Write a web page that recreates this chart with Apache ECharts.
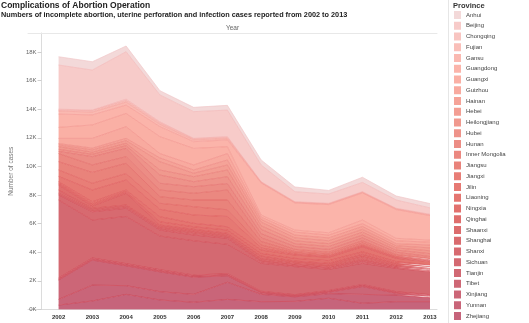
<!DOCTYPE html>
<html><head><meta charset="utf-8">
<script src="https://cdn.jsdelivr.net/npm/echarts@6/dist/echarts.min.js"></script>
<style>html,body{margin:0;padding:0;background:#fff}#c{width:529px;height:323px}</style>
</head><body><div id="c"></div>
<script>
// ---- data ----
const years = ['2002','2003','2004','2005','2006','2007','2008','2009','2010','2011','2012','2013'];
const yTicks = [0,2000,4000,6000,8000,10000,12000,14000,16000,18000];
// legend order (top of the stack first)
const provinces = ['Anhui','Beijing','Chongqing','Fujian','Gansu','Guangdong','Guangxi','Guizhou','Hainan','Hebei','Heilongjiang','Hubei','Hunan','Inner Mongolia','Jiangsu','Jiangxi','Jilin','Liaoning','Ningxia','Qinghai','Shaanxi','Shanghai','Shanxi','Sichuan','Tianjin','Tibet','Xinjiang','Yunnan','Zhejiang'];
const colors = ['#f3d9d9','#f7cbc9','#f8c5c1','#f9bfb9','#fab9b1','#fbb4aa','#fab0a5','#f8aa9f','#f5a398','#f39e93','#f0998e','#ee938a','#ec8d85','#eb8880','#e9837b','#e87e77','#e67973','#e47570','#e2716e','#df6e6d','#dc6c6d','#d96b6e','#d76a70','#d46971','#d16873','#ce6775','#cc6677','#c96579','#c6647b'];

const Anhui        = [580,580,400,300,300,330,350,330,250,360,280,300];
const Beijing      = [3090,2800,3320,1880,1870,1860,1170,700,650,650,580,450];
const Chongqing    = [70,40,100,70,40,60,30,30,30,30,30,30];
const Fujian       = [60,100,100,100,70,70,30,30,30,30,30,30];
const Gansu        = [210,200,210,170,120,100,40,30,30,30,30,30];
const Guangdong    = [930,700,580,700,470,470,2230,1890,1970,1890,2010,1710];
const Guangxi      = [770,940,930,1180,1160,480,150,150,160,250,170,150];
const Guizhou      = [360,680,820,300,350,450,150,200,200,200,200,200];
const Hainan       = [100,130,160,270,230,350,200,200,200,200,150,200];
const Hebei        = [120,150,180,580,240,350,250,200,200,200,150,200];
const Heilongjiang = [180,150,170,350,350,470,250,200,200,200,150,200];
const Hubei        = [150,170,190,580,350,480,300,200,200,200,150,200];
const Hunan        = [150,580,580,470,460,450,300,200,200,200,150,150];
const InnerMongolia= [570,520,460,470,470,700,250,150,120,150,100,80];
const Jiangsu      = [580,760,720,460,470,680,250,100,100,130,80,50];
const Jiangxi      = [450,470,450,420,580,470,200,80,80,70,50,40];
const Jilin        = [370,820,700,520,580,720,150,70,60,70,50,40];
const Liaoning     = [110,160,120,350,240,230,230,230,230,350,230,240];
const Ningxia      = [120,140,110,230,180,230,190,190,190,180,120,110];
const Qinghai      = [350,160,820,120,120,120,160,110,120,160,120,120];
const Shaanxi      = [230,120,120,110,120,120,120,100,110,190,70,70];
const Shanghai     = [120,120,110,120,160,110,110,90,90,120,90,90];
const Shanxi       = [350,580,570,420,400,420,120,90,100,160,70,70];
const Sichuan      = [5450,2650,3300,2350,2400,2050,1950,1960,1480,1480,1630,1610];
const Tianjin      = [90,90,90,90,90,90,70,60,70,80,60,60];
const Tibet        = [60,60,60,60,60,60,50,50,50,60,50,50];
const Xinjiang     = [1350,1750,1390,1390,1200,450,100,40,100,550,130,100];
const Yunnan       = [400,1110,610,580,550,1200,510,320,320,620,460,280];
const Zhejiang     = [300,590,1050,660,500,700,540,560,780,430,540,540];

const valuesByProvince = {Anhui,Beijing,Chongqing,Fujian,Gansu,Guangdong,Guangxi,Guizhou,Hainan,Hebei,Heilongjiang,Hubei,Hunan,'Inner Mongolia':InnerMongolia,Jiangsu,Jiangxi,Jilin,Liaoning,Ningxia,Qinghai,Shaanxi,Shanghai,Shanxi,Sichuan,Tianjin,Tibet,Xinjiang,Yunnan,Zhejiang};

function mix(c1, c2, t){
  const a=parseInt(c1.slice(1),16), b=parseInt(c2.slice(1),16);
  const r=Math.round(((a>>16)&255)*(1-t)+((b>>16)&255)*t);
  const g=Math.round(((a>>8)&255)*(1-t)+((b>>8)&255)*t);
  const bl=Math.round((a&255)*(1-t)+(b&255)*t);
  return 'rgb('+r+','+g+','+bl+')';
}

const series = [];
const n = provinces.length;
for (let i = n - 1; i >= 0; i--) {
  const name = provinces[i];
  const t = 0.1 + 0.45 * (i / (n - 1));
  series.push({
    name: name, type: 'line', stack: 'total', symbol: 'none', silent: true,
    xAxisIndex: 0, yAxisIndex: 0,
    z: 10 + i,
    data: valuesByProvince[name],
    itemStyle: {color: colors[i]},
    areaStyle: {color: colors[i], opacity: 1},
    lineStyle: {color: mix(colors[i], '#d0202c', t), width: 0.7}
  });
}

const FONT = 'Liberation Sans, Arial, sans-serif';
const chart = echarts.init(document.getElementById('c'), null, {renderer: 'canvas'});
chart.setOption({
  animation: false,
  backgroundColor: '#fff',
  textStyle: {fontFamily: FONT},
  title: [
    {text: 'Complications of Abortion Operation', left: 1, top: 1, padding: 0,
     textStyle: {fontSize: 8.5, fontWeight: 'bold', color: '#222'}},
    {text: 'Numbers of incomplete abortion, uterine perforation and infection cases reported from 2002 to 2013', left: 1, top: 11.5, padding: 0,
     textStyle: {fontSize: 7.3, fontWeight: 'bold', color: '#222'}},
    {text: 'Province', left: 453, top: 2, padding: 0,
     textStyle: {fontSize: 7.5, fontWeight: 'bold', color: '#333'}}
  ],
  legend: {
    orient: 'vertical', left: 454, top: 11, padding: 0,
    itemWidth: 7, itemHeight: 8, itemGap: 2.75, icon: 'rect',
    selectedMode: false,
    textStyle: {fontSize: 6, color: '#444', lineHeight: 8},
    itemStyle: {borderWidth: 0},
    data: provinces
  },
  grid: [
    {left: 45, right: 99, top: 33, bottom: 13.6},
    {left: 28, right: 92, top: 33, bottom: 13.6}
  ],
  xAxis: [
    {type: 'category', data: years, boundaryGap: false, gridIndex: 0,
     axisLine: {show: false}, axisTick: {show: false}, splitLine: {show: false},
     axisLabel: {fontSize: 6, fontWeight: 'bold', color: '#333', margin: 5}},
    {type: 'value', gridIndex: 1, min: 0, max: 1, position: 'bottom',
     axisLine: {show: true, lineStyle: {color: '#dcdcdc'}},
     axisTick: {show: false}, splitLine: {show: false}, axisLabel: {show: false}},
    {type: 'value', gridIndex: 1, min: 0, max: 1, position: 'top',
     axisLine: {show: true, lineStyle: {color: '#e8e8e8'}},
     axisTick: {show: false}, splitLine: {show: false}, axisLabel: {show: false},
     name: 'Year', nameLocation: 'middle', nameGap: 1.5,
     nameTextStyle: {fontSize: 6.5, color: '#666'}}
  ],
  yAxis: [
    {type: 'value', gridIndex: 0, min: 0, max: 19330, offset: 17,
     axisLine: {show: true, lineStyle: {color: '#dcdcdc'}},
     axisTick: {show: true, length: 4, customValues: yTicks, lineStyle: {color: '#cfcfcf'}},
     axisLabel: {customValues: yTicks, formatter: v => (v / 1000) + 'K', fontSize: 6, color: '#666', margin: 5},
     splitLine: {show: false},
     name: 'Number of cases', nameLocation: 'middle', nameGap: 17,
     nameTextStyle: {fontSize: 6.5, color: '#777'}},
    {type: 'value', gridIndex: 1, min: 0, max: 1, show: false}
  ],
  graphic: [{type: 'line', silent: true, shape: {x1: 448.5, y1: 0, x2: 448.5, y2: 323}, style: {stroke: '#e6e6e6', lineWidth: 1}}],
  series: series
});
</script></body></html>
